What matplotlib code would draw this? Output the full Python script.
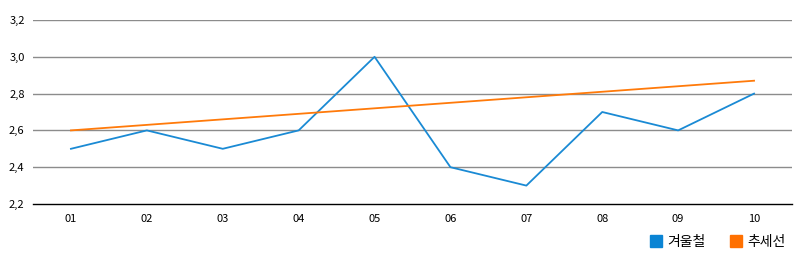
import matplotlib
matplotlib.use("Agg")
import matplotlib.pyplot as plt
from matplotlib.lines import Line2D

plt.rcParams['font.family'] = ['Noto Sans CJK KR', 'DejaVu Sans']

categories = ["01", "02", "03", "04", "05", "06", "07", "08", "09", "10"]
winter = [2.5, 2.6, 2.5, 2.6, 3.0, 2.4, 2.3, 2.7, 2.6, 2.8]
trend_ends = [2.6, 2.87]
yticks = [2.2, 2.4, 2.6, 2.8, 3.0, 3.2]
series_names = ["겨울철", "추세선"]

blue = "#1a8ad4"
orange = "#ff7a0a"

fig = plt.figure(figsize=(8, 2.6), dpi=100)
ax = fig.add_axes([33/800, 1-204/260, (792-33)/800, (204-20)/260])

x = list(range(1, len(categories) + 1))
ax.plot(x, winter, color=blue, lw=1.3, zorder=3)
ax.plot([x[0], x[-1]], trend_ends, color=orange, lw=1.3, zorder=3)

ax.set_xlim(0.5, len(categories) + 0.5)
ax.set_ylim(2.2, 3.2)
ax.set_yticks(yticks)
ax.set_yticklabels([f"{v:.1f}".replace(".", ",") for v in yticks], fontsize=8)
ax.set_xticks(x)
ax.set_xticklabels(categories, fontsize=8)
ax.tick_params(length=0, pad=7)
ax.tick_params(axis='y', pad=6)
for y in yticks[1:]:
    ax.axhline(y, color="#8c8c8c", lw=1, zorder=1)
for s in ["top", "right", "left"]:
    ax.spines[s].set_visible(False)
ax.spines["bottom"].set_color("black")
ax.spines["bottom"].set_linewidth(1)

handles = [Line2D([], [], marker='s', color='none', markerfacecolor=c, markeredgecolor=c, markersize=9)
           for c in ["#0a84d4", "#ff7000"]]
fig.legend(handles, series_names, loc='center right', bbox_to_anchor=(798/800, 1-242/260),
           ncol=2, frameon=False, fontsize=10, handletextpad=0.2, columnspacing=1.6,
           handlelength=1.2)

fig.savefig("out.png", dpi=100)
